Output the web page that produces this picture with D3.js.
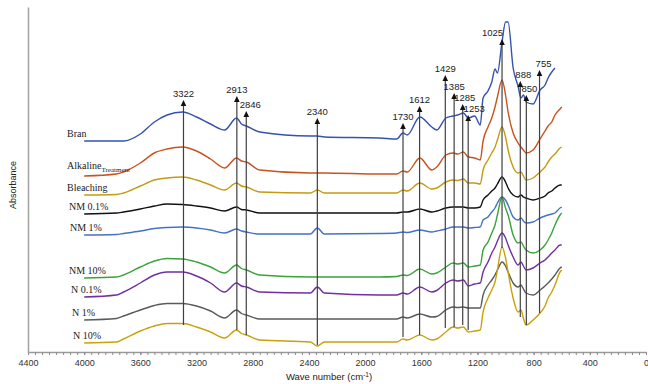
<!DOCTYPE html>
<html>
<head>
<meta charset="utf-8">
<script src="https://cdn.jsdelivr.net/npm/d3@7"></script>
<style>
  body { margin: 0; background: #fff; }
  .tick text { font-family: "Liberation Sans", Arial, sans-serif; font-size: 9px; fill: #333; }
</style>
</head>
<body>
<div id="chart"></div>
<script>
// wave numbers (cm-1) shared by every spectrum
const waveNumbers = [4000, 3770, 3720, 3600, 3500, 3410, 3300, 3200, 3100, 3000, 2915, 2880, 2845, 2750,
    2390, 2340, 2290, 1900, 1775, 1730, 1700, 1610, 1525, 1490, 1425, 1375, 1340, 1300, 1265, 1220,
    1180, 1160, 1125, 1098, 1075, 1058, 1025, 1000, 982, 946, 911, 890, 873, 854, 804, 754, 719, 697,
    671, 648, 612, 600];

// absorbance (offset, a.u.)
const bran = [2.11, 2.11, 2.11, 2.18, 2.30, 2.37, 2.40, 2.35, 2.28, 2.22, 2.34, 2.28, 2.26, 2.20,
    2.16, 2.16, 2.15, 2.14, 2.13, 2.19, 2.17, 2.35, 2.25, 2.22, 2.34, 2.36, 2.37, 2.39, 2.34, 2.36,
    2.27, 2.54, 2.61, 2.70, 2.83, 2.79, 3.10, 3.30, 3.30, 2.84, 2.66, 2.54, 2.57, 2.50, 2.48, 2.62,
    2.67, 2.74, 2.80, 2.84, null, null];
const alkaline = [1.76, 1.78, 1.80, 1.89, 1.99, 2.03, 2.05, 2.01, 1.93, 1.84, 1.94, 1.91, 1.90, 1.82,
    1.79, 1.79, 1.79, 1.78, 1.78, 1.81, 1.80, 1.94, 1.82, 1.85, 1.97, 1.99, 1.98, 2.00, 1.95, 1.94,
    1.92, 2.11, 2.25, 2.34, 2.45, 2.55, 2.72, 2.57, 2.40, 2.19, 2.09, 2.05, 2.02, 1.99, 2.02, 2.13,
    2.21, 2.26, 2.30, 2.37, 2.43, 2.45];
const bleaching = [1.57, 1.575, 1.59, 1.66, 1.72, 1.74, 1.75, 1.72, 1.67, 1.62, 1.69, 1.66, 1.65, 1.60,
    1.59, 1.62, 1.59, 1.59, 1.59, 1.62, 1.61, 1.69, 1.63, 1.64, 1.70, 1.72, 1.715, 1.73, 1.69, 1.69,
    1.68, 1.82, 1.92, 1.99, 2.05, 2.12, 2.25, 2.15, 2.02, 1.85, 1.79, 1.80, 1.76, 1.72, 1.74, 1.80,
    1.85, 1.90, 1.95, 1.98, 2.04, 2.05];
const nm01 = [1.38, 1.39, 1.40, 1.43, 1.46, 1.48, 1.475, 1.46, 1.44, 1.41, 1.45, 1.425, 1.42, 1.39,
    1.39, 1.39, 1.39, 1.39, 1.39, 1.40, 1.40, 1.43, 1.40, 1.41, 1.44, 1.45, 1.45, 1.45, 1.44, 1.44,
    1.45, 1.52, 1.57, 1.61, 1.64, 1.68, 1.75, 1.70, 1.64, 1.57, 1.55, 1.57, 1.55, 1.54, 1.52, 1.54,
    1.56, 1.59, 1.61, 1.64, 1.67, 1.67];
const nm1 = [1.17, 1.175, 1.185, 1.21, 1.235, 1.245, 1.25, 1.24, 1.22, 1.19, 1.23, 1.21, 1.20, 1.18,
    1.18, 1.24, 1.18, 1.185, 1.19, 1.20, 1.195, 1.22, 1.20, 1.21, 1.23, 1.25, 1.25, 1.25, 1.24, 1.245,
    1.25, 1.32, 1.35, 1.40, 1.44, 1.49, 1.55, 1.52, 1.47, 1.35, 1.32, 1.34, 1.31, 1.29, 1.30, 1.34,
    1.36, 1.37, 1.38, 1.39, 1.44, 1.45];
const nm10 = [0.74, 0.75, 0.77, 0.85, 0.91, 0.935, 0.93, 0.90, 0.85, 0.79, 0.87, 0.835, 0.82, 0.77,
    0.75, 0.75, 0.75, 0.75, 0.755, 0.77, 0.765, 0.83, 0.78, 0.79, 0.85, 0.89, 0.88, 0.89, 0.85, 0.86,
    0.87, 1.02, 1.10, 1.19, 1.27, 1.37, 1.55, 1.44, 1.37, 1.17, 1.09, 1.10, 1.06, 1.02, 0.99, 1.02,
    1.07, 1.12, 1.19, 1.27, 1.37, 1.39];
const n01 = [0.55, 0.57, 0.60, 0.69, 0.77, 0.80, 0.80, 0.76, 0.69, 0.60, 0.69, 0.66, 0.65, 0.60,
    0.59, 0.65, 0.59, 0.57, 0.57, 0.59, 0.58, 0.65, 0.60, 0.615, 0.69, 0.72, 0.71, 0.72, 0.66, 0.68,
    0.69, 0.80, 0.90, 0.99, 1.05, 1.11, 1.19, 1.14, 1.07, 0.95, 0.87, 0.90, 0.86, 0.82, 0.84, 0.89,
    0.92, 0.95, 0.99, 1.02, 1.07, 1.07];
const n1 = [0.32, 0.335, 0.36, 0.42, 0.465, 0.485, 0.485, 0.46, 0.41, 0.34, 0.42, 0.385, 0.37, 0.33,
    0.33, 0.33, 0.33, 0.33, 0.33, 0.35, 0.34, 0.38, 0.35, 0.355, 0.42, 0.45, 0.445, 0.45, 0.44, 0.44,
    0.44, 0.57, 0.67, 0.72, 0.77, 0.82, 0.90, 0.86, 0.80, 0.69, 0.65, 0.67, 0.63, 0.59, 0.57, 0.62,
    0.66, 0.69, 0.73, 0.77, 0.84, 0.85];
const n10 = [0.09, 0.10, 0.13, 0.21, 0.26, 0.285, 0.285, 0.25, 0.20, 0.14, 0.22, 0.185, 0.17, 0.12,
    0.10, 0.06, 0.10, 0.10, 0.10, 0.13, 0.12, 0.17, 0.12, 0.13, 0.20, 0.25, 0.24, 0.25, 0.20, 0.21,
    0.22, 0.40, 0.54, 0.62, 0.70, 0.82, 1.05, 0.94, 0.80, 0.54, 0.40, 0.42, 0.34, 0.27, 0.32, 0.39,
    0.46, 0.54, 0.60, 0.67, 0.80, 0.82];

const seriesNames = ["Bran", "Alkaline", "Bleaching", "NM 0.1%", "NM 1%", "NM 10%", "N 0.1%", "N 1%", "N 10%"];
const seriesValues = [bran, alkaline, bleaching, nm01, nm1, nm10, n01, n1, n10];
const seriesColors = ["#3553ad", "#c8531f", "#c39b12", "#111111", "#4472c4", "#3aa33a", "#7030a0", "#5a5a5a", "#c9a10c"];

// peak markers
const peakLabels = ["3322", "2913", "2846", "2340", "1730", "1612", "1429", "1385", "1285", "1253", "1025", "888", "850", "755"];
const peakWaves = [3293, 2913, 2846, 2340, 1730, 1612, 1429, 1366, 1305, 1266, 1025, 895, 852, 758];
const peakTops = [2.52, 2.56, 2.41, 2.34, 2.29, 2.46, 2.77, 2.59, 2.48, 2.37, 3.13, 2.71, 2.57, 2.82];
const peakBottoms = [0.27, 0.22, 0.17, 0.07, 0.15, 0.17, 0.24, 0.25, 0.27, 0.22, 1.04, 0.35, 0.27, 0.39];

const xTicks = [4400, 4000, 3600, 3200, 2800, 2400, 2000, 1600, 1200, 800, 400, 0];

const width = 648, height = 384;
const margin = {top: 7, right: 2, bottom: 32, left: 28};

const svg = d3.select("#chart").append("svg")
    .attr("width", width)
    .attr("height", height);

const x = d3.scaleLinear()
    .domain([4400, 0])
    .range([margin.left, width - margin.right]);

const y = d3.scaleLinear()
    .domain([0, 3.45])
    .range([height - margin.bottom, margin.top]);

// minor ticks every 50
svg.append("g")
    .attr("transform", `translate(0,${height - margin.bottom})`)
    .call(d3.axisBottom(x).tickValues(d3.range(0, 4401, 50)).tickFormat("").tickSize(3).tickSizeOuter(0))
    .call(g => g.selectAll("line").attr("stroke", "#8c8c8c"))
    .call(g => g.select(".domain").attr("stroke", "#9a9a9a").attr("stroke-width", 1.3));

// labelled ticks
svg.append("g")
    .attr("transform", `translate(0,${height - margin.bottom})`)
    .call(d3.axisBottom(x).tickValues(xTicks).tickFormat(d3.format("d")).tickSize(3).tickPadding(5).tickSizeOuter(0))
    .call(g => g.select(".domain").remove())
    .call(g => g.selectAll("line").attr("stroke", "#8c8c8c"));

// y axis: plain line
svg.append("g")
    .attr("transform", `translate(${margin.left},0)`)
    .call(d3.axisLeft(y).tickValues([]).tickSizeOuter(0))
    .call(g => g.select(".domain").attr("stroke", "#a6a6a6").attr("stroke-width", 1.6));

// axis titles
const title = svg.append("text")
    .attr("x", 329)
    .attr("y", 380)
    .attr("text-anchor", "middle")
    .style("font-family", "Liberation Sans, Arial, sans-serif")
    .style("font-size", "9.5px")
    .attr("fill", "#222");
title.append("tspan").text("Wave number (cm");
title.append("tspan").attr("dy", -3.5).style("font-size", "6.5px").text("-1");
title.append("tspan").attr("dy", 3.5).text(")");

svg.append("text")
    .attr("transform", `translate(16,185) rotate(-90)`)
    .attr("text-anchor", "middle")
    .style("font-family", "Liberation Sans, Arial, sans-serif")
    .style("font-size", "9px")
    .attr("fill", "#222")
    .text("Absorbance");

// spectra
const line = d3.line()
    .defined(d => d[1] !== null)
    .x(d => x(d[0]))
    .y(d => y(d[1]))
    .curve(d3.curveMonotoneX);

seriesValues.forEach((vals, i) => {
    const pts = waveNumbers.map((w, j) => [w, vals[j]]);
    svg.append("path")
        .datum(pts)
        .attr("fill", "none")
        .attr("stroke", seriesColors[i])
        .attr("stroke-width", 1.4)
        .attr("stroke-linejoin", "round")
        .attr("d", line);
});

// series names, just above the start of each curve
const nameX = [67, 67, 67, 69, 70, 69, 71, 72, 73];
seriesNames.forEach((name, i) => {
    const yStart = y(seriesValues[i][0]);
    const t = svg.append("text")
        .attr("x", nameX[i])
        .attr("y", name === "Alkaline" ? yStart - 7.5 : yStart - 4)
        .style("font-family", "Liberation Serif, 'Times New Roman', serif")
        .style("font-size", "10px")
        .attr("fill", "#222");
    t.append("tspan").text(name);
    if (name === "Alkaline") {
        t.append("tspan").attr("dy", 3).style("font-size", "7px").text("Treatment");
    }
});

// peak arrows
const labelDx = {"2846": 4, "1253": 6, "1285": 2, "888": 3, "850": 3, "755": 4};
peakWaves.forEach((w, i) => {
    const px = x(w);
    const top = y(peakTops[i]);
    svg.append("line")
        .attr("x1", px).attr("x2", px)
        .attr("y1", y(peakBottoms[i])).attr("y2", top + 4)
        .attr("stroke", "#404040")
        .attr("stroke-width", 1.2);
    svg.append("path")
        .attr("d", `M${px},${top} L${px - 2.8},${top + 6} L${px + 2.8},${top + 6} Z`)
        .attr("fill", "#111");
    const lab = peakLabels[i];
    svg.append("text")
        .attr("x", lab === "1025" ? px + 1 : px + (labelDx[lab] || 0))
        .attr("y", top - 3)
        .attr("text-anchor", lab === "1025" ? "end" : "middle")
        .style("font-family", "Liberation Sans, Arial, sans-serif")
        .style("font-size", "9.5px")
        .attr("fill", "#222")
        .text(lab);
});
</script>
</body>
</html>
